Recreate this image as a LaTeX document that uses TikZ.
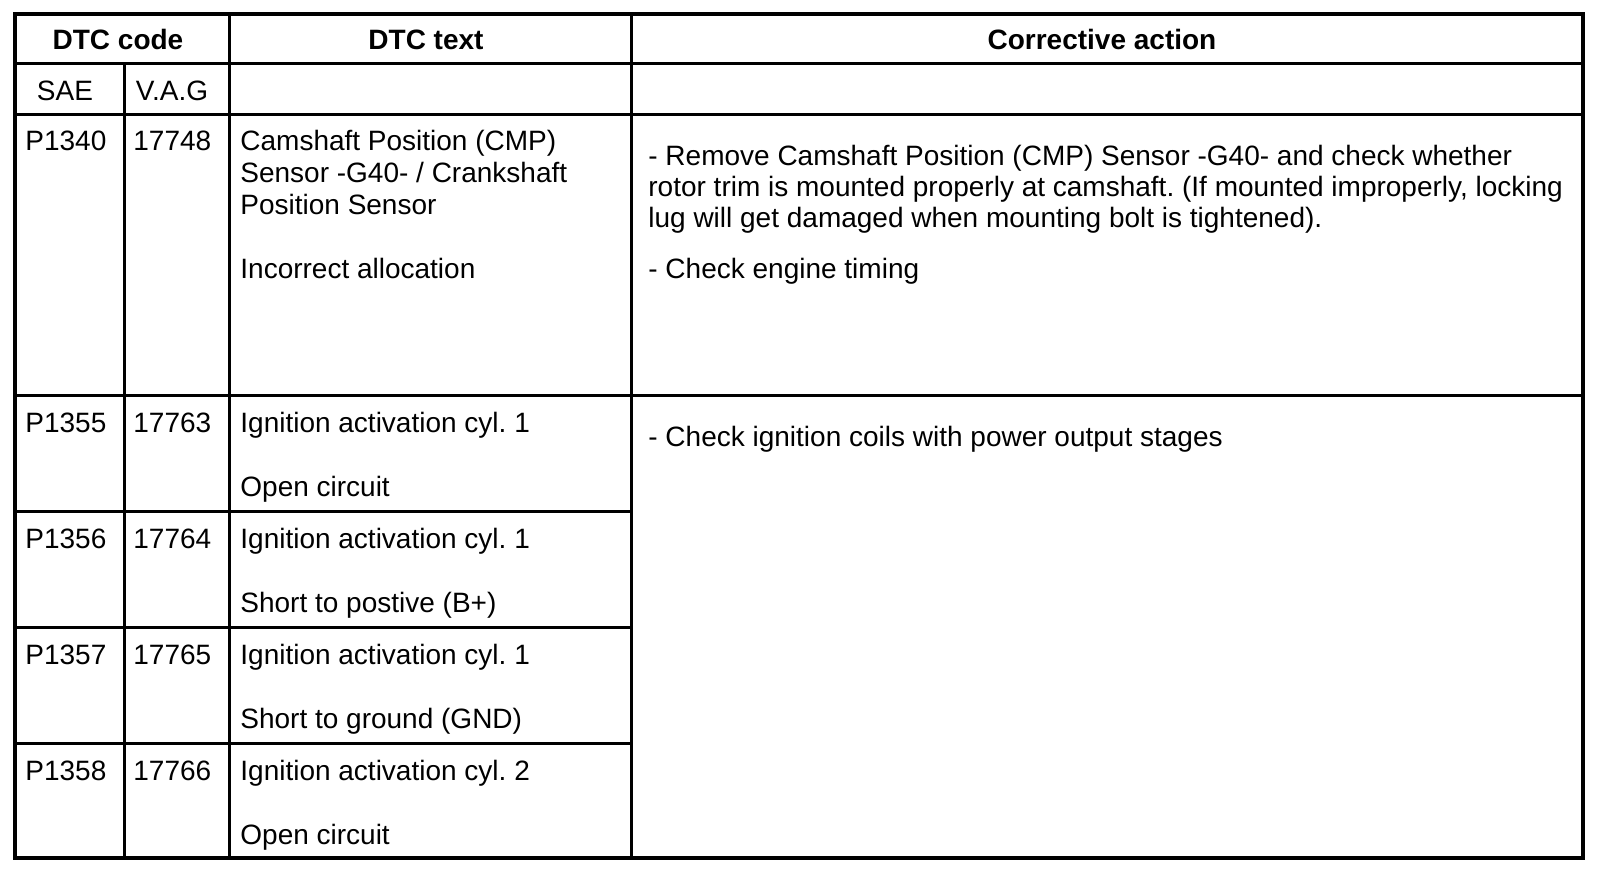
\documentclass[tikz,border=0pt]{standalone}
\usepackage{fontspec}
\setmainfont{Liberation Sans}
\frenchspacing
\begin{document}
\begin{tikzpicture}[x=0.5pt,y=-0.5pt,
  cell/.style={inner sep=0pt,anchor=base west,font=\fontsize{14}{16}\selectfont},
  head/.style={inner sep=0pt,anchor=base,font=\fontsize{14}{16}\selectfont\bfseries},
  rule/.style={line width=1.5pt},
  frame/.style={line width=2pt}]
\useasboundingbox (0,0) rectangle (1600,880);
\fill[white] (0,0) rectangle (1600,880);
% table grid
\coordinate (tl) at (14.5,14);
\coordinate (br) at (1583,858);
\draw[rule] (14.5,63.5)--(1583,63.5);
\draw[rule] (14.5,114)--(1583,114);
\draw[rule] (14.5,395)--(1583,395);
\foreach \y in {511,627,743}
  \draw[rule] (14.5,\y)--(631.5,\y);
\draw[rule] (124,63.5)--(124,858);
\draw[rule] (229,14)--(229,858);
\draw[rule] (631.5,14)--(631.5,858);
\draw[frame] (tl) rectangle (br);
% header
\node[head] (dtccode) at (118,49) {DTC code};
\node[head] (dtctext) at (426,49) {DTC text};
\node[head] (action) at (1102,49) {Corrective action};
\node[cell,anchor=base] (sae) at (65,100) {SAE};
\node[cell,anchor=base] (vag) at (172,100) {V.A.G};
% codes
\foreach \sae/\vag/\y [count=\i] in {P1340/17748/150,P1355/17763/432,P1356/17764/548,P1357/17765/664,P1358/17766/780}{
  \node[cell] (sae\i) at (25,\y) {\sae};
  \node[cell] (vag\i) at (133,\y) {\vag};
}
% DTC text
\node[cell] (txt1a) at (240,150) {Camshaft Position (CMP)};
\node[cell] (txt1b) at (240,182) {Sensor -G40- / Crankshaft};
\node[cell] (txt1c) at (240,214) {Position Sensor};
\node[cell] (txt1d) at (240,278) {Incorrect allocation};
\node[cell] (txt2a) at (240,432) {Ignition activation cyl. 1};
\node[cell] (txt2b) at (240,496) {Open circuit};
\node[cell] (txt3a) at (240,548) {Ignition activation cyl. 1};
\node[cell] (txt3b) at (240,612) {Short to postive (B+)};
\node[cell] (txt4a) at (240,664) {Ignition activation cyl. 1};
\node[cell] (txt4b) at (240,728) {Short to ground (GND)};
\node[cell] (txt5a) at (240,780) {Ignition activation cyl. 2};
\node[cell] (txt5b) at (240,844) {Open circuit};
% corrective action
\node[cell] (act1a) at (648,165) {- Remove Camshaft Position (CMP) Sensor -G40- and check whether};
\node[cell] (act1b) at (648,196) {rotor trim is mounted properly at camshaft. (If mounted improperly, locking};
\node[cell] (act1c) at (648,227) {lug will get damaged when mounting bolt is tightened).};
\node[cell] (act1d) at (648,278) {- Check engine timing};
\node[cell] (act2a) at (648,446) {- Check ignition coils with power output stages};
\end{tikzpicture}
\end{document}
